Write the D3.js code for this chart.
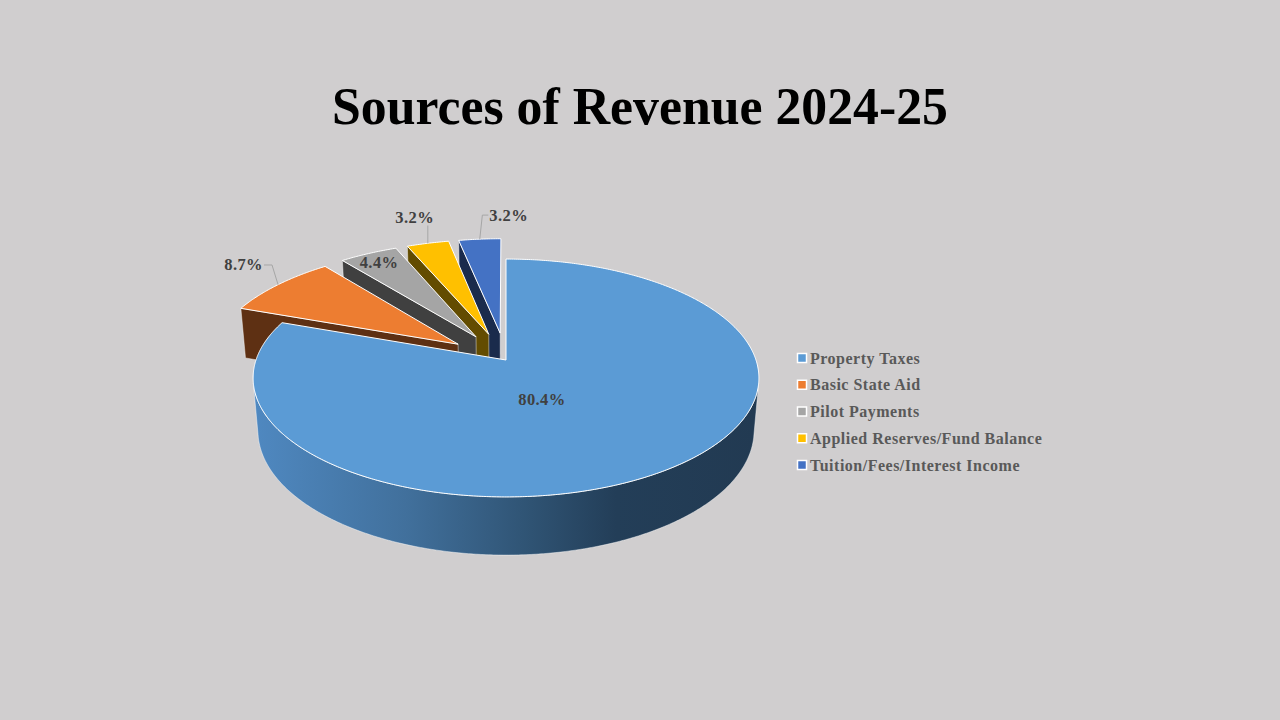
<!DOCTYPE html>
<html><head><meta charset="utf-8">
<script src="https://cdn.jsdelivr.net/npm/d3@7"></script>
<style>html,body{margin:0;padding:0;background:#d0cecf;}svg{display:block}</style>
</head><body>
<svg id="chart" width="1280" height="720"></svg>
<script>
// ---------- data ----------
const chartTitle = "Sources of Revenue 2024-25";
const categories = ["Property Taxes", "Basic State Aid", "Pilot Payments", "Applied Reserves/Fund Balance", "Tuition/Fees/Interest Income"];
const values = [80.4, 8.7, 4.4, 3.2, 3.2];
const valueLabels = ["80.4%", "8.7%", "4.4%", "3.2%", "3.2%"];
const topColors = ["#5b9bd5", "#ed7d31", "#a5a5a5", "#ffc000", "#4472c4"];
const faceColors = ["#223b54", "#5e3013", "#404040", "#634c00", "#1a2b4c"];
const explode = [0, 0.24, 0.24, 0.24, 0.24];
// label placement in pie (ground) coordinates: radius & angle (deg, clockwise from back)
const labelRadius = [0.35, 1.52, 1.13, 1.58, 1.54];
const labelAngle = [157, 308, 329, 343.5, 0.5];

// ---------- 3D projection ----------
const cam = {cx: 506, cy: 360, f: 1465, phi: 27.7 * Math.PI / 180, D: 5.86, H: 0.24};
const sP = Math.sin(cam.phi), cP = Math.cos(cam.phi);
function project(x, h, z) {
  const yp = h * cP - z * sP;
  const d = cam.D - (z * cP + h * sP);
  return [cam.cx + cam.f * x / d, cam.cy - cam.f * yp / d];
}

const svg = d3.select("#chart");
svg.append("rect").attr("width", 1280).attr("height", 720).attr("fill", "#d0cecf");

const FONT = "'Liberation Serif', 'DejaVu Serif', serif";

// title fitted to reference width
const titleEl = svg.append("text").text(chartTitle)
  .attr("x", 640).attr("y", 124).attr("text-anchor", "middle")
  .attr("font-family", FONT).attr("font-weight", "bold").attr("font-size", 50).attr("fill", "#000");
{
  const w = titleEl.node().getComputedTextLength();
  titleEl.attr("font-size", 50 * 616 / w);
}

const pie = d3.pie().sort(null).value(d => d).startAngle(0).endAngle(2 * Math.PI);
const arcs = pie(values);

function pt(i, r, theta, h) {
  const a = arcs[i];
  const mid = (a.startAngle + a.endAngle) / 2;
  const e = explode[i];
  const x = e * Math.sin(mid) + r * Math.sin(theta);
  const z = -e * Math.cos(mid) - r * Math.cos(theta);
  return project(x, h, z);
}

const line = d3.line().curve(d3.curveLinear);
function arcPoints(i, t0, t1, h) {
  const n = Math.max(2, Math.ceil((t1 - t0) / (Math.PI / 360)));
  return d3.range(n + 1).map(k => pt(i, 1, t0 + (t1 - t0) * k / n, h));
}

// gradient for the outer wall
const defs = svg.append("defs");
const grad = defs.append("linearGradient").attr("id", "wallGrad")
  .attr("gradientUnits", "userSpaceOnUse")
  .attr("x1", project(-1, 0, 0)[0]).attr("x2", project(1, 0, 0)[0])
  .attr("y1", 0).attr("y2", 0);
[[0, "#4f88c0"], [0.3, "#41709c"], [0.55, "#2f5373"], [0.72, "#233e58"], [1, "#223a52"]]
  .forEach(([o, c]) => grad.append("stop").attr("offset", o).attr("stop-color", c));

const visA = Math.acos(-1 / (cam.D * cP));
const visB = 2 * Math.PI - visA;

const g = svg.append("g");
// back-to-front drawing order: exploded slices last-to-first, then the main slice
const order = d3.range(arcs.length).reverse().filter(i => explode[i] > 0).concat(d3.range(arcs.length).filter(i => explode[i] === 0));

order.forEach(i => {
  const a = arcs[i];
  const H = cam.H;
  // outer wall (visible part)
  const w0 = Math.max(a.startAngle, visA), w1 = Math.min(a.endAngle, visB);
  if (w1 > w0) {
    const topPts = arcPoints(i, w0, w1, 0);
    const botPts = arcPoints(i, w0, w1, -H).reverse();
    g.append("path").attr("d", line(topPts.concat(botPts)) + "Z")
      .attr("fill", explode[i] === 0 ? "url(#wallGrad)" : faceColors[i])
      .attr("stroke", "#ffffff").attr("stroke-opacity", 0.55).attr("stroke-width", 0.8);
  }
  // start radial face (faces the viewer for these slices)
  const t = a.startAngle;
  if (explode[i] > 0) {
    const face = [pt(i, 0, t, 0), pt(i, 1, t, 0), pt(i, 1, t, -H), pt(i, 0, t, -H)];
    g.append("path").attr("d", line(face) + "Z")
      .attr("fill", faceColors[i])
      .attr("stroke", "#ffffff").attr("stroke-opacity", 0.55).attr("stroke-width", 0.8)
      .attr("stroke-linejoin", "round");
  }
  // top surface
  const top = [pt(i, 0, 0, 0)].concat(arcPoints(i, a.startAngle, a.endAngle, 0));
  g.append("path").attr("d", line(top) + "Z")
    .attr("fill", topColors[i])
    .attr("stroke", "#ffffff").attr("stroke-width", 1).attr("stroke-linejoin", "round");
});

// data labels
const labelG = svg.append("g");
arcs.forEach((a, i) => {
  const th = labelAngle[i] * Math.PI / 180;
  const [lx, ly] = project(labelRadius[i] * Math.sin(th), 0, -labelRadius[i] * Math.cos(th));
  const txt = labelG.append("text").text(valueLabels[i])
    .attr("x", lx).attr("y", ly).attr("dy", "0.35em").attr("text-anchor", "middle")
    .attr("font-family", FONT).attr("font-weight", "bold").attr("font-size", 16.5)
    .attr("letter-spacing", 0.4)
    .attr("fill", "#404040");
  if (explode[i] > 0 && labelRadius[i] > 1 + explode[i]) {
    const mid = (a.startAngle + a.endAngle) / 2;
    const [ex, ey] = pt(i, 1, mid, 0);
    const bb = txt.node().getBBox();
    let pts;
    if (ex > bb.x + bb.width) {
      const y = bb.y + bb.height / 2;
      pts = [[ex, ey], [bb.x + bb.width + 9, y], [bb.x + bb.width + 1, y]];
    } else if (ex < bb.x) {
      const y = bb.y + bb.height / 2;
      pts = [[ex, ey], [bb.x - 7, y], [bb.x - 1, y]];
    } else {
      pts = [[ex, ey], [ex, bb.y + bb.height - 1]];
    }
    labelG.insert("path", "text").attr("d", line(pts))
      .attr("fill", "none").attr("stroke", "#a6a6a6").attr("stroke-width", 1);
  }
});

// legend
const legendY = d3.scalePoint().domain(categories).range([358, 465]);
const leg = svg.append("g");
categories.forEach((c, i) => {
  const y = legendY(c);
  leg.append("rect").attr("x", 797.5).attr("y", y - 4.5).attr("width", 9).attr("height", 9)
    .attr("fill", topColors[i]).attr("stroke", "#ffffff").attr("stroke-width", 1.5);
  leg.append("text").text(c).attr("x", 810).attr("y", y).attr("dy", "0.35em")
    .attr("font-family", FONT).attr("font-weight", "bold").attr("font-size", 16)
    .attr("letter-spacing", 0.5)
    .attr("fill", "#595959");
});
</script>
</body></html>
